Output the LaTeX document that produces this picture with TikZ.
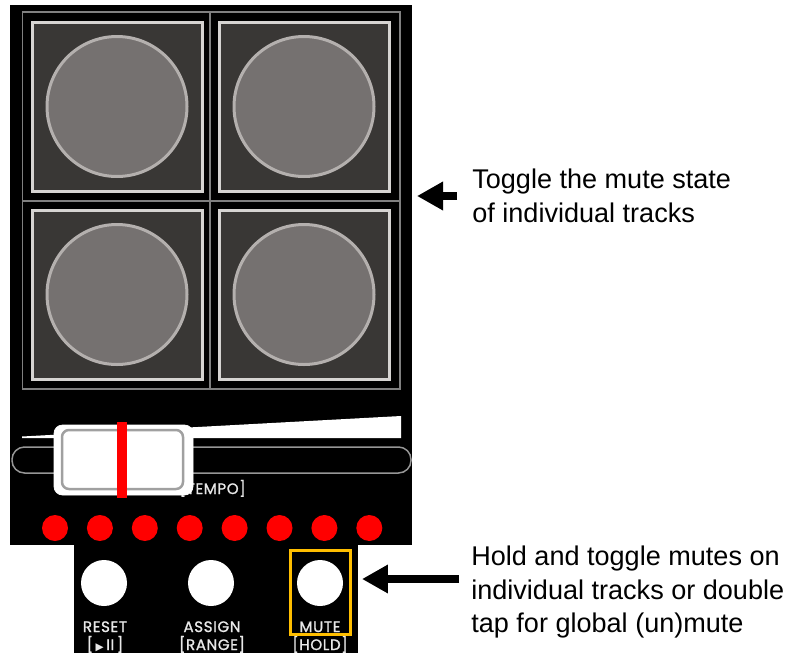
\documentclass[tikz,border=0pt]{standalone}
\usepackage{fontspec}
\setmainfont{Liberation Sans}
\newfontfamily\panelfont{Poppins}[LetterSpace=4, FakeBold=1.2]
\newfontfamily\symfont{DejaVu Sans}
\usetikzlibrary{arrows.meta}

\definecolor{padgray}{RGB}{57,55,53}
\definecolor{padrim}{RGB}{214,212,210}
\definecolor{discgray}{RGB}{117,113,112}
\definecolor{discrim}{RGB}{180,176,174}
\definecolor{framegray}{RGB}{128,128,128}
\definecolor{trackgray}{RGB}{150,150,150}
\definecolor{ledred}{RGB}{255,0,0}
\definecolor{markgold}{RGB}{255,190,0}
\definecolor{labelgray}{RGB}{232,232,232}

\tikzset{
  pad/.style={fill=padgray, draw=padrim, line width=0.06cm},
  disc/.style={fill=discgray, draw=discrim, line width=0.06cm},
  panellabel/.style={text=labelgray, inner sep=0, font=\panelfont\fontsize{8.6pt}{10pt}\selectfont},
  note/.style={align=left, inner sep=0, font=\fontsize{15.4pt}{19.2pt}\selectfont},
  bigarrow/.style={line width=0.16cm, -{Triangle[length=0.52cm,width=0.54cm]}}
}

\begin{document}
\begin{tikzpicture}[x=0.02cm, y=-0.02cm]
    %\draw[very thin,color=gray] (0,0) grid[step=50] (808,653);
    \useasboundingbox (0,0) rectangle (808,653);
    \fill[black] (10,5) rectangle (412,545);
    \fill[black] (74,545) rectangle (358,653);
    % pads
    \draw[framegray, line width=0.04cm] (22.5,12) rectangle (400,389);
    \draw[framegray, line width=0.04cm] (210,12) -- (210,389);
    \draw[framegray, line width=0.04cm] (22.5,200.5) -- (400,200.5);
    \foreach \x/\y in {32/22, 219/22, 32/210, 219/210} {
        \draw[pad] (\x,\y) rectangle ++(170,169);
        \draw[disc] (\x+85,\y+84.5) circle (70);
    }
    % tempo slider
    \fill[white] (22,436.5) -- (401,416) -- (401,438) -- (22,438) -- cycle;
    \draw[trackgray, line width=0.03cm, rounded corners=0.25cm] (12,447) rectangle (411,473);
    \node[panellabel, anchor=base east] (tempo) at (246,494) {[TEMPO]};
    \draw[white, fill=white, rounded corners=0.17cm] (54,425) rectangle (193,495);
    \draw[trackgray!90!white, line width=0.05cm, rounded corners=0.14cm] (62,430) rectangle (183,489);
    \fill[ledred] (117,422) rectangle (127,498);
    \foreach \i in {0,...,7}
        \fill[ledred] (55+\i*44.9,528) circle (13);
    % buttons
    \fill[white] (104,583) circle (23);
    \fill[white] (211,583) circle (23);
    \fill[white] (320,583) circle (23);
    \node[panellabel, anchor=base] (reset) at (105,632) {RESET};
    \node[panellabel, anchor=base] at (105,650) {[\,{\symfont\fontsize{6pt}{6pt}\selectfont ▶}\,II\,]};
    \node[panellabel, anchor=base] (assign) at (212,632) {ASSIGN};
    \node[panellabel, anchor=base] at (212,650) {[RANGE]};
    \node[panellabel, anchor=base] (mute) at (320,632) {MUTE};
    \node[panellabel, anchor=base] at (320,650) {[HOLD]};
    \draw[markgold, line width=0.06cm] (290,550) rectangle (350,634);

    \node[note, anchor=north west] (padnote) at (472,168.5) {Toggle the mute state\\of individual tracks};
    \coordinate (padtip) at (417,196);
    \draw[bigarrow, shorten <=0.3cm] (padnote.west |- padtip) -- (padtip);
    \node[note, anchor=north west] (mutenote) at (471,545.5) {Hold and toggle mutes on\\individual tracks or double\\tap for global (un)mute};
    \coordinate (mutetip) at (362,579);
    \draw[bigarrow, shorten <=0.24cm] (mutenote.west |- mutetip) -- (mutetip);

\end{tikzpicture}
\end{document}
